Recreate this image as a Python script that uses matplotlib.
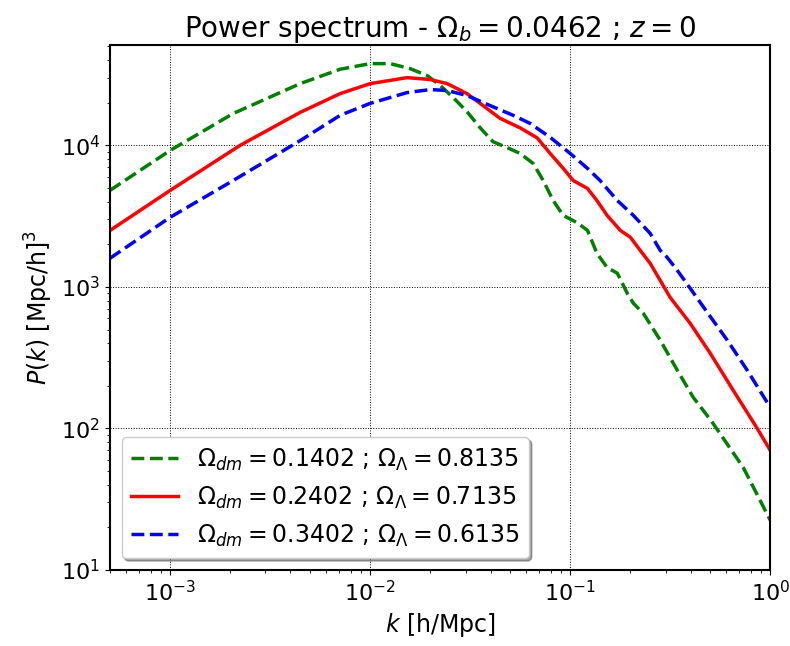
import numpy as np
import matplotlib
matplotlib.use("Agg")
import matplotlib.pyplot as plt

# values (k in h/Mpc, P(k) in (Mpc/h)^3)
k_green = [5e-4, 1e-3, 2.07e-3, 4.47e-3, 7.08e-3, 0.01, 0.0126, 0.0158, 0.0193, 0.0224,
           0.026, 0.0305, 0.0355, 0.0412, 0.0484, 0.0562, 0.0653, 0.0733, 0.0822, 0.0923,
           0.108, 0.122, 0.136, 0.153, 0.172, 0.193, 0.207, 0.232, 0.282, 0.343,
           0.412, 0.51, 0.733, 1.0]
p_green = [4800, 9200, 16800, 27300, 34500, 37800, 37800, 34900, 31100, 26500,
           21800, 17300, 13300, 10600, 9640, 8770, 7450, 5650, 4080, 3200,
           2850, 2510, 1730, 1370, 1250, 900, 766, 651, 420, 258,
           166, 112, 53, 22.5]

k_red = [5e-4, 1e-3, 2.24e-3, 4.47e-3, 7.08e-3, 0.01, 0.0153, 0.02, 0.0243, 0.0305,
         0.0367, 0.0447, 0.0562, 0.0684, 0.0794, 0.0923, 0.1035, 0.122, 0.136, 0.153,
         0.178, 0.2, 0.224, 0.251, 0.282, 0.316, 0.398, 0.501, 0.653, 0.861,
         1.0]
p_red = [2500, 4800, 10000, 17100, 23200, 27300, 30100, 29200, 27300, 23200,
         19100, 15500, 13300, 11300, 8770, 6880, 5650, 4960, 4080, 3200,
         2510, 2240, 1810, 1470, 1110, 843, 553, 340, 186, 100,
         70]

k_blue = [5e-4, 1e-3, 2.07e-3, 4.47e-3, 7.08e-3, 0.01, 0.0153, 0.02, 0.0243, 0.0305,
          0.0398, 0.0519, 0.063, 0.0794, 0.1, 0.122, 0.141, 0.172, 0.207, 0.251,
          0.282, 0.305, 0.343, 0.398, 0.484, 0.61, 0.767, 1.0]
p_blue = [1590, 3100, 5650, 10800, 16300, 19800, 23600, 24800, 24400, 22500,
          19100, 16300, 14300, 11400, 8770, 6880, 5650, 4080, 3200, 2390,
          1810, 1620, 1310, 977, 662, 420, 258, 141]

labels = [r"$\Omega_{dm} = 0.1402$ ; $\Omega_{\Lambda} = 0.8135$",
          r"$\Omega_{dm} = 0.2402$ ; $\Omega_{\Lambda} = 0.7135$",
          r"$\Omega_{dm} = 0.3402$ ; $\Omega_{\Lambda} = 0.6135$"]


def main():
    fig = plt.figure(figsize=(7.9, 6.46), dpi=100)
    ax = fig.add_axes([0.139, 0.1176, 0.836, 0.8124])

    ax.loglog(k_green, p_green, color="green", ls="--", lw=2.5, label=labels[0])
    ax.loglog(k_red, p_red, color="red", ls="-", lw=2.5, label=labels[1])
    ax.loglog(k_blue, p_blue, color="blue", ls="--", lw=2.5, label=labels[2])

    ax.set_xlim(5e-4, 1.0)
    ax.set_ylim(10, 5.1e4)
    ax.grid(True, which="major", color="black", ls=":", lw=0.7)

    ax.set_title(r"Power spectrum - $\Omega_b = 0.0462$ ; $z = 0$", fontsize=20)
    ax.set_xlabel(r"$k$ [h/Mpc]", fontsize=17)
    ax.set_ylabel(r"$P(k)$ [Mpc/h]$^3$", fontsize=17)
    ax.tick_params(labelsize=16)
    for s in ax.spines.values():
        s.set_linewidth(1.5)

    ax.legend(loc="lower left", fontsize=17, shadow=True, fancybox=True, framealpha=1)

    fig.savefig("out.png", dpi=100)
    plt.close(fig)


if __name__ == "__main__":
    main()
